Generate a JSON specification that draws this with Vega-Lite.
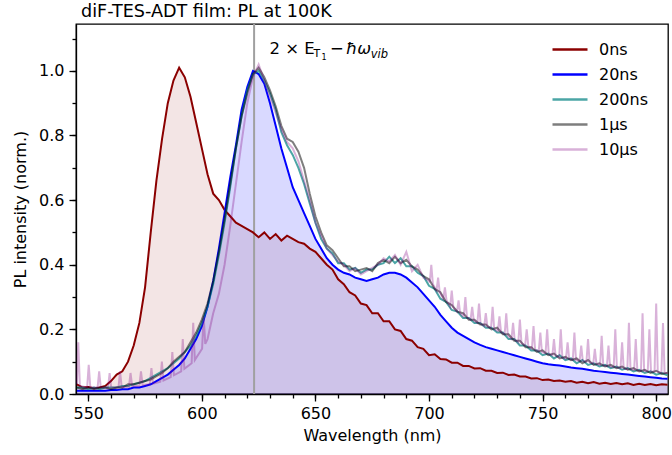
{
"$schema":"https://vega.github.io/schema/vega-lite/v6.json",
"width":592,"height":370,
"autosize":{"type":"none"},
"padding":{"left":76,"top":24,"right":4,"bottom":61},
"background":"white",
"title":{"text":"diF-TES-ADT film: PL at 100K","anchor":"start","frame":"group","dx":5,"offset":2,"font":"DejaVu Sans","fontSize":17.6,"fontWeight":"normal","color":"black"},
"config":{"font":"DejaVu Sans","view":{"stroke":"black","strokeWidth":1.3},
 "axis":{"domainColor":"black","domainWidth":1.3,"tickColor":"black","tickWidth":1.3,"grid":false,"labelFont":"DejaVu Sans","labelFontSize":16,"labelColor":"black","titleFont":"DejaVu Sans","titleFontSize":16,"titleFontWeight":"normal","titleColor":"black","labelOverlap":false,"labelFlush":false}},
"resolve":{"axis":{"x":"independent","y":"independent"}},
"datasets":{"pl":[
{"w":545,"0ns":0.03,"20ns":0.01,"200ns":0.02,"1μs":0.02},
{"w":547.5,"0ns":0.02,"20ns":0.01,"200ns":0.02,"1μs":0.015},
{"w":550,"0ns":0.022,"20ns":0.01,"200ns":0.015,"1μs":0.02},
{"w":552.5,"0ns":0.018,"20ns":0.01,"200ns":0.02,"1μs":0.015},
{"w":555,"0ns":0.02,"20ns":0.01,"200ns":0.015,"1μs":0.02},
{"w":557.5,"0ns":0.025,"20ns":0.01,"200ns":0.02,"1μs":0.02},
{"w":560,"0ns":0.04,"20ns":0.012,"200ns":0.02,"1μs":0.015},
{"w":562.5,"0ns":0.06,"20ns":0.012,"200ns":0.02,"1μs":0.02},
{"w":565,"0ns":0.07,"20ns":0.015,"200ns":0.025,"1μs":0.02},
{"w":567.5,"0ns":0.1,"20ns":0.015,"200ns":0.025,"1μs":0.03},
{"w":570,"0ns":0.15,"20ns":0.02,"200ns":0.03,"1μs":0.03},
{"w":572.5,"0ns":0.22,"20ns":0.02,"200ns":0.035,"1μs":0.035},
{"w":575,"0ns":0.33,"20ns":0.025,"200ns":0.04,"1μs":0.04},
{"w":577.5,"0ns":0.5,"20ns":0.03,"200ns":0.05,"1μs":0.045},
{"w":580,"0ns":0.66,"20ns":0.04,"200ns":0.06,"1μs":0.055},
{"w":582.5,"0ns":0.79,"20ns":0.05,"200ns":0.07,"1μs":0.065},
{"w":585,"0ns":0.9,"20ns":0.06,"200ns":0.08,"1μs":0.08},
{"w":587.5,"0ns":0.97,"20ns":0.075,"200ns":0.095,"1μs":0.1},
{"w":590,"0ns":1.01,"20ns":0.09,"200ns":0.11,"1μs":0.115},
{"w":592.5,"0ns":0.98,"20ns":0.11,"200ns":0.13,"1μs":0.13},
{"w":595,"0ns":0.92,"20ns":0.14,"200ns":0.15,"1μs":0.16},
{"w":597.5,"0ns":0.84,"20ns":0.17,"200ns":0.18,"1μs":0.19},
{"w":600,"0ns":0.76,"20ns":0.21,"200ns":0.22,"1μs":0.23},
{"w":602.5,"0ns":0.68,"20ns":0.27,"200ns":0.27,"1μs":0.28},
{"w":605,"0ns":0.62,"20ns":0.35,"200ns":0.34,"1μs":0.35},
{"w":607.5,"0ns":0.6,"20ns":0.45,"200ns":0.43,"1μs":0.44},
{"w":610,"0ns":0.57,"20ns":0.56,"200ns":0.53,"1μs":0.54},
{"w":612.5,"0ns":0.55,"20ns":0.67,"200ns":0.64,"1μs":0.65},
{"w":615,"0ns":0.53,"20ns":0.77,"200ns":0.76,"1μs":0.76},
{"w":617.5,"0ns":0.52,"20ns":0.88,"200ns":0.86,"1μs":0.86},
{"w":620,"0ns":0.51,"20ns":0.95,"200ns":0.94,"1μs":0.93},
{"w":622.5,"0ns":0.5,"20ns":1.0,"200ns":0.99,"1μs":0.99},
{"w":625,"0ns":0.485,"20ns":0.99,"200ns":1.0,"1μs":1.01},
{"w":627.5,"0ns":0.5,"20ns":0.96,"200ns":0.97,"1μs":0.98},
{"w":630,"0ns":0.48,"20ns":0.9,"200ns":0.93,"1μs":0.94},
{"w":632.5,"0ns":0.495,"20ns":0.83,"200ns":0.88,"1μs":0.89},
{"w":635,"0ns":0.475,"20ns":0.76,"200ns":0.81,"1μs":0.83},
{"w":637.5,"0ns":0.49,"20ns":0.7,"200ns":0.77,"1μs":0.79},
{"w":640,"0ns":0.48,"20ns":0.64,"200ns":0.74,"1μs":0.78},
{"w":642.5,"0ns":0.47,"20ns":0.6,"200ns":0.7,"1μs":0.75},
{"w":645,"0ns":0.465,"20ns":0.56,"200ns":0.65,"1μs":0.7},
{"w":647.5,"0ns":0.45,"20ns":0.52,"200ns":0.59,"1μs":0.62},
{"w":650,"0ns":0.44,"20ns":0.48,"200ns":0.53,"1μs":0.55},
{"w":652.5,"0ns":0.42,"20ns":0.45,"200ns":0.48,"1μs":0.5},
{"w":655,"0ns":0.4,"20ns":0.42,"200ns":0.45,"1μs":0.46},
{"w":657.5,"0ns":0.385,"20ns":0.4,"200ns":0.435,"1μs":0.445},
{"w":660,"0ns":0.355,"20ns":0.385,"200ns":0.405,"1μs":0.42},
{"w":662.5,"0ns":0.34,"20ns":0.375,"200ns":0.405,"1μs":0.395},
{"w":665,"0ns":0.315,"20ns":0.37,"200ns":0.385,"1μs":0.395},
{"w":667.5,"0ns":0.305,"20ns":0.36,"200ns":0.39,"1μs":0.38},
{"w":670,"0ns":0.28,"20ns":0.355,"200ns":0.375,"1μs":0.385},
{"w":672.5,"0ns":0.275,"20ns":0.35,"200ns":0.385,"1μs":0.39},
{"w":675,"0ns":0.25,"20ns":0.355,"200ns":0.385,"1μs":0.38},
{"w":677.5,"0ns":0.25,"20ns":0.36,"200ns":0.4,"1μs":0.405},
{"w":680,"0ns":0.225,"20ns":0.37,"200ns":0.405,"1μs":0.415},
{"w":682.5,"0ns":0.225,"20ns":0.375,"200ns":0.425,"1μs":0.405},
{"w":685,"0ns":0.2,"20ns":0.375,"200ns":0.405,"1μs":0.425},
{"w":687.5,"0ns":0.195,"20ns":0.37,"200ns":0.42,"1μs":0.405},
{"w":690,"0ns":0.17,"20ns":0.36,"200ns":0.395,"1μs":0.415},
{"w":692.5,"0ns":0.165,"20ns":0.345,"200ns":0.395,"1μs":0.395},
{"w":695,"0ns":0.145,"20ns":0.33,"200ns":0.375,"1μs":0.385},
{"w":697.5,"0ns":0.14,"20ns":0.31,"200ns":0.365,"1μs":0.365},
{"w":700,"0ns":0.12,"20ns":0.29,"200ns":0.335,"1μs":0.355},
{"w":702.5,"0ns":0.123,"20ns":0.27,"200ns":0.325,"1μs":0.325},
{"w":705,"0ns":0.108,"20ns":0.245,"200ns":0.295,"1μs":0.315},
{"w":707.5,"0ns":0.107,"20ns":0.225,"200ns":0.285,"1μs":0.285},
{"w":710,"0ns":0.097,"20ns":0.205,"200ns":0.26,"1μs":0.275},
{"w":712.5,"0ns":0.097,"20ns":0.19,"200ns":0.255,"1μs":0.255},
{"w":715,"0ns":0.087,"20ns":0.18,"200ns":0.235,"1μs":0.25},
{"w":717.5,"0ns":0.087,"20ns":0.17,"200ns":0.235,"1μs":0.23},
{"w":720,"0ns":0.079,"20ns":0.16,"200ns":0.22,"1μs":0.23},
{"w":722.5,"0ns":0.08,"20ns":0.152,"200ns":0.22,"1μs":0.215},
{"w":725,"0ns":0.072,"20ns":0.145,"200ns":0.205,"1μs":0.215},
{"w":727.5,"0ns":0.072,"20ns":0.14,"200ns":0.205,"1μs":0.2},
{"w":730,"0ns":0.065,"20ns":0.135,"200ns":0.19,"1μs":0.205},
{"w":732.5,"0ns":0.066,"20ns":0.13,"200ns":0.19,"1μs":0.185},
{"w":735,"0ns":0.059,"20ns":0.125,"200ns":0.17,"1μs":0.185},
{"w":737.5,"0ns":0.06,"20ns":0.12,"200ns":0.17,"1μs":0.165},
{"w":740,"0ns":0.054,"20ns":0.115,"200ns":0.15,"1μs":0.165},
{"w":742.5,"0ns":0.054,"20ns":0.11,"200ns":0.15,"1μs":0.145},
{"w":745,"0ns":0.048,"20ns":0.105,"200ns":0.135,"1μs":0.145},
{"w":747.5,"0ns":0.049,"20ns":0.1,"200ns":0.135,"1μs":0.13},
{"w":750,"0ns":0.043,"20ns":0.095,"200ns":0.12,"1μs":0.135},
{"w":752.5,"0ns":0.045,"20ns":0.092,"200ns":0.125,"1μs":0.12},
{"w":755,"0ns":0.04,"20ns":0.09,"200ns":0.11,"1μs":0.125},
{"w":757.5,"0ns":0.042,"20ns":0.088,"200ns":0.12,"1μs":0.11},
{"w":760,"0ns":0.038,"20ns":0.085,"200ns":0.105,"1μs":0.115},
{"w":762.5,"0ns":0.04,"20ns":0.082,"200ns":0.11,"1μs":0.105},
{"w":765,"0ns":0.035,"20ns":0.08,"200ns":0.095,"1μs":0.11},
{"w":767.5,"0ns":0.038,"20ns":0.078,"200ns":0.105,"1μs":0.095},
{"w":770,"0ns":0.033,"20ns":0.075,"200ns":0.09,"1μs":0.105},
{"w":772.5,"0ns":0.037,"20ns":0.072,"200ns":0.095,"1μs":0.09},
{"w":775,"0ns":0.032,"20ns":0.07,"200ns":0.085,"1μs":0.095},
{"w":777.5,"0ns":0.035,"20ns":0.068,"200ns":0.09,"1μs":0.085},
{"w":780,"0ns":0.031,"20ns":0.066,"200ns":0.08,"1μs":0.09},
{"w":782.5,"0ns":0.034,"20ns":0.064,"200ns":0.085,"1μs":0.08},
{"w":785,"0ns":0.03,"20ns":0.062,"200ns":0.075,"1μs":0.085},
{"w":787.5,"0ns":0.033,"20ns":0.06,"200ns":0.08,"1μs":0.075},
{"w":790,"0ns":0.028,"20ns":0.058,"200ns":0.07,"1μs":0.08},
{"w":792.5,"0ns":0.032,"20ns":0.056,"200ns":0.075,"1μs":0.07},
{"w":795,"0ns":0.028,"20ns":0.054,"200ns":0.065,"1μs":0.075},
{"w":797.5,"0ns":0.031,"20ns":0.052,"200ns":0.07,"1μs":0.065},
{"w":800,"0ns":0.027,"20ns":0.05,"200ns":0.06,"1μs":0.072},
{"w":802.5,"0ns":0.03,"20ns":0.048,"200ns":0.065,"1μs":0.062},
{"w":805,"0ns":0.029,"20ns":0.047,"200ns":0.058,"1μs":0.066},
{"w":545,"10μs":0.03},{"w":545.6,"10μs":0.16},{"w":546.3,"10μs":0.025},{"w":549.5,"10μs":0.02},{"w":550.2,"10μs":0.09},{"w":550.9,"10μs":0.02},
{"w":554.1,"10μs":0.02},{"w":554.8,"10μs":0.07},{"w":555.5,"10μs":0.02},{"w":558.7,"10μs":0.02},{"w":559.4,"10μs":0.065},{"w":560.1,"10μs":0.02},
{"w":563.3,"10μs":0.02},{"w":564,"10μs":0.07},{"w":564.7,"10μs":0.022},{"w":567.9,"10μs":0.022},{"w":568.6,"10μs":0.065},{"w":569.3,"10μs":0.025},
{"w":572.5,"10μs":0.025},{"w":573.2,"10μs":0.07},{"w":573.9,"10μs":0.028},{"w":577.1,"10μs":0.03},{"w":577.8,"10μs":0.08},{"w":578.5,"10μs":0.032},
{"w":581.7,"10μs":0.038},{"w":582.4,"10μs":0.1},{"w":583.1,"10μs":0.042},{"w":586.3,"10μs":0.052},{"w":587,"10μs":0.13},{"w":587.7,"10μs":0.058},
{"w":590.9,"10μs":0.07},{"w":591.6,"10μs":0.17},{"w":592.3,"10μs":0.078},{"w":595.5,"10μs":0.095},{"w":596.2,"10μs":0.22},{"w":596.9,"10μs":0.105},
{"w":600.1,"10μs":0.14},{"w":600.8,"10μs":0.24},{"w":601.5,"10μs":0.155},
{"w":602.5,"10μs":0.17},{"w":605,"10μs":0.25},{"w":607.5,"10μs":0.31},{"w":610,"10μs":0.4},{"w":612.5,"10μs":0.52},{"w":615,"10μs":0.65},{"w":617.5,"10μs":0.78},
{"w":620,"10μs":0.9},{"w":622.5,"10μs":0.98},{"w":625,"10μs":1.02},{"w":627.5,"10μs":0.97},{"w":630,"10μs":0.92},{"w":632.5,"10μs":0.87},{"w":635,"10μs":0.82},
{"w":637.5,"10μs":0.78},{"w":640,"10μs":0.76},{"w":642.5,"10μs":0.72},{"w":645,"10μs":0.66},{"w":647.5,"10μs":0.6},{"w":650,"10μs":0.53},{"w":652.5,"10μs":0.49},
{"w":655,"10μs":0.45},{"w":657.5,"10μs":0.43},{"w":660,"10μs":0.41},{"w":662.5,"10μs":0.4},{"w":665,"10μs":0.38},{"w":667.5,"10μs":0.39},{"w":670,"10μs":0.37},
{"w":672.5,"10μs":0.38},{"w":675,"10μs":0.39},{"w":677.5,"10μs":0.4},{"w":680,"10μs":0.42},{"w":682.5,"10μs":0.41},{"w":685,"10μs":0.43},{"w":687.5,"10μs":0.4},
{"w":690,"10μs":0.44},{"w":692.5,"10μs":0.38},{"w":695,"10μs":0.4},{"w":697.5,"10μs":0.36},{"w":700,"10μs":0.35},
{"w":700.3,"10μs":0.345},{"w":701,"10μs":0.4},{"w":701.7,"10μs":0.34},{"w":703.3,"10μs":0.32},{"w":704,"10μs":0.36},{"w":704.7,"10μs":0.315},
{"w":706.3,"10μs":0.295},{"w":707,"10μs":0.33},{"w":707.7,"10μs":0.29},{"w":709.3,"10μs":0.27},{"w":710,"10μs":0.32},{"w":710.7,"10μs":0.268},
{"w":712.3,"10μs":0.255},{"w":713,"10μs":0.29},{"w":713.7,"10μs":0.25},{"w":715.3,"10μs":0.24},{"w":716,"10μs":0.3},{"w":716.7,"10μs":0.238},
{"w":718.3,"10μs":0.23},{"w":719,"10μs":0.27},{"w":719.7,"10μs":0.228},{"w":721.3,"10μs":0.22},{"w":722,"10μs":0.28},{"w":722.7,"10μs":0.218},
{"w":724.3,"10μs":0.21},{"w":725,"10μs":0.25},{"w":725.7,"10μs":0.208},{"w":727.3,"10μs":0.205},{"w":728,"10μs":0.27},{"w":728.7,"10μs":0.2},
{"w":730.3,"10μs":0.195},{"w":731,"10μs":0.24},{"w":731.7,"10μs":0.192},{"w":733.3,"10μs":0.185},{"w":734,"10μs":0.25},{"w":734.7,"10μs":0.18},
{"w":736.3,"10μs":0.17},{"w":737,"10μs":0.22},{"w":737.7,"10μs":0.168},{"w":739.3,"10μs":0.16},{"w":740,"10μs":0.23},{"w":740.7,"10μs":0.158},
{"w":742.3,"10μs":0.15},{"w":743,"10μs":0.2},{"w":743.7,"10μs":0.148},{"w":745.3,"10μs":0.14},{"w":746,"10μs":0.21},{"w":746.7,"10μs":0.138},
{"w":748.3,"10μs":0.132},{"w":749,"10μs":0.19},{"w":749.7,"10μs":0.13},{"w":751.3,"10μs":0.126},{"w":752,"10μs":0.2},{"w":752.7,"10μs":0.124},
{"w":754.3,"10μs":0.12},{"w":755,"10μs":0.17},{"w":755.7,"10μs":0.118},{"w":757.3,"10μs":0.114},{"w":758,"10μs":0.2},{"w":758.7,"10μs":0.112},
{"w":760.3,"10μs":0.11},{"w":761,"10μs":0.16},{"w":761.7,"10μs":0.109},{"w":763.3,"10μs":0.106},{"w":764,"10μs":0.19},{"w":764.7,"10μs":0.105},
{"w":766.3,"10μs":0.103},{"w":767,"10μs":0.15},{"w":767.7,"10μs":0.102},{"w":769.3,"10μs":0.1},{"w":770,"10μs":0.17},{"w":770.7,"10μs":0.098},
{"w":772.3,"10μs":0.094},{"w":773,"10μs":0.14},{"w":773.7,"10μs":0.093},{"w":775.3,"10μs":0.09},{"w":776,"10μs":0.18},{"w":776.7,"10μs":0.089},
{"w":778.3,"10μs":0.086},{"w":779,"10μs":0.15},{"w":779.7,"10μs":0.085},{"w":781.3,"10μs":0.083},{"w":782,"10μs":0.2},{"w":782.7,"10μs":0.082},
{"w":784.3,"10μs":0.08},{"w":785,"10μs":0.16},{"w":785.7,"10μs":0.079},{"w":787.3,"10μs":0.077},{"w":788,"10μs":0.22},{"w":788.7,"10μs":0.076},
{"w":790.3,"10μs":0.074},{"w":791,"10μs":0.17},{"w":791.7,"10μs":0.073},{"w":793.3,"10μs":0.071},{"w":794,"10μs":0.25},{"w":794.7,"10μs":0.071},
{"w":796.3,"10μs":0.07},{"w":797,"10μs":0.2},{"w":797.7,"10μs":0.07},{"w":799.3,"10μs":0.07},{"w":800,"10μs":0.28},{"w":800.7,"10μs":0.069},
{"w":802.3,"10μs":0.066},{"w":803,"10μs":0.22},{"w":803.7,"10μs":0.065},{"w":805,"10μs":0.065}
]},
"layer":[
{"data":{"name":"pl"},"transform":[{"filter":"isValid(datum['0ns'])"}],"mark":{"type":"area","color":"#8b0000","opacity":0.1},
 "encoding":{"x":{"field":"w","type":"quantitative","scale":{"domain":[544.6,805.2],"nice":false,"zero":false},
   "axis":{"orient":"bottom","title":null,"labels":false,"domain":false,"tickSize":4,"values":[550,560,570,580,590,600,610,620,630,640,650,660,670,680,690,700,710,720,730,740,750,760,770,780,790,800]}},
  "y":{"field":"0ns","type":"quantitative","scale":{"domain":[0,1.145],"nice":false},
   "axis":{"orient":"left","title":null,"labels":false,"domain":false,"tickSize":4,"values":[0,0.1,0.2,0.3,0.4,0.5,0.6,0.7,0.8,0.9,1.0,1.1]}}}},
{"data":{"name":"pl"},"transform":[{"filter":"isValid(datum['20ns'])"}],"mark":{"type":"area","color":"#0000ff","opacity":0.15},
 "encoding":{"x":{"field":"w","type":"quantitative","axis":null},"y":{"field":"20ns","type":"quantitative","axis":null}}},
{"data":{"values":[{"x":623}]},"mark":{"type":"rule","color":"#a0a0a0","strokeWidth":2},
 "encoding":{"x":{"field":"x","type":"quantitative","axis":null}}},
{"data":{"name":"pl"},
 "transform":[{"fold":["0ns","20ns","200ns","1μs","10μs"],"as":["series","v"]},{"filter":"isValid(datum.v)"}],
 "mark":{"type":"line","strokeWidth":2},
 "encoding":{
  "x":{"field":"w","type":"quantitative","axis":{"orient":"bottom","title":"Wavelength (nm)","values":[550,600,650,700,750,800],"format":"d","tickSize":7,"labelPadding":4,"titlePadding":6,"labelOverlap":false}},
  "y":{"field":"v","type":"quantitative","axis":{"orient":"left","title":"PL intensity (norm.)","values":[0,0.2,0.4,0.6,0.8,1.0],"format":".1f","tickSize":7,"labelPadding":5,"titlePadding":10,"labelOverlap":false}},
  "color":{"field":"series","type":"nominal","scale":{"domain":["0ns","20ns","200ns","1μs","10μs"],"range":["#8b0000","#0000ff","#008080","#000000","#800080"]},
   "legend":{"title":null,"orient":"none","legendX":475,"legendY":14,"padding":0,"symbolType":"stroke","symbolSize":1225,"symbolStrokeWidth":2.4,"labelFontSize":16,"labelFont":"DejaVu Sans","labelColor":"black","labelOffset":10,"rowPadding":2,"clipHeight":23}},
  "opacity":{"field":"series","type":"nominal","scale":{"type":"ordinal","domain":["0ns","20ns","200ns","1μs","10μs"],"range":[1,1,0.7,0.5,0.3]},
   "legend":{"title":null,"orient":"none","legendX":475,"legendY":14,"padding":0,"symbolType":"stroke","symbolSize":1225,"symbolStrokeWidth":2.4,"labelFontSize":16,"labelFont":"DejaVu Sans","labelColor":"black","labelOffset":10,"rowPadding":2,"clipHeight":23}}
 }},
{"data":{"values":[{}]},"mark":{"type":"text","text":"2 × E","fontSize":16.5,"align":"left","baseline":"alphabetic","color":"black","font":"DejaVu Sans"},
 "encoding":{"x":{"datum":629.8,"axis":null},"y":{"datum":1.0517,"axis":null}}},
{"data":{"values":[{}]},"mark":{"type":"text","text":"T","fontSize":11,"align":"left","baseline":"alphabetic","color":"black","font":"DejaVu Sans"},
 "encoding":{"x":{"datum":649.2,"axis":null},"y":{"datum":1.0418,"axis":null}}},
{"data":{"values":[{}]},"mark":{"type":"text","text":"1","fontSize":8,"align":"left","baseline":"alphabetic","color":"black","font":"DejaVu Sans"},
 "encoding":{"x":{"datum":652.7,"axis":null},"y":{"datum":1.034,"axis":null}}},
{"data":{"values":[{}]},"mark":{"type":"text","text":"−","fontSize":16.5,"align":"left","baseline":"alphabetic","color":"black","font":"DejaVu Sans"},
 "encoding":{"x":{"datum":656.4,"axis":null},"y":{"datum":1.0517,"axis":null}}},
{"data":{"values":[{}]},"mark":{"type":"text","text":"ħω","fontSize":16.5,"fontStyle":"italic","align":"left","baseline":"alphabetic","color":"black","font":"DejaVu Sans"},
 "encoding":{"x":{"datum":663.4,"axis":null},"y":{"datum":1.0517,"axis":null}}},
{"data":{"values":[{}]},"mark":{"type":"text","text":"vib","fontSize":11.5,"fontStyle":"italic","align":"left","baseline":"alphabetic","color":"black","font":"DejaVu Sans"},
 "encoding":{"x":{"datum":674.3,"axis":null},"y":{"datum":1.0402,"axis":null}}}
]
}
